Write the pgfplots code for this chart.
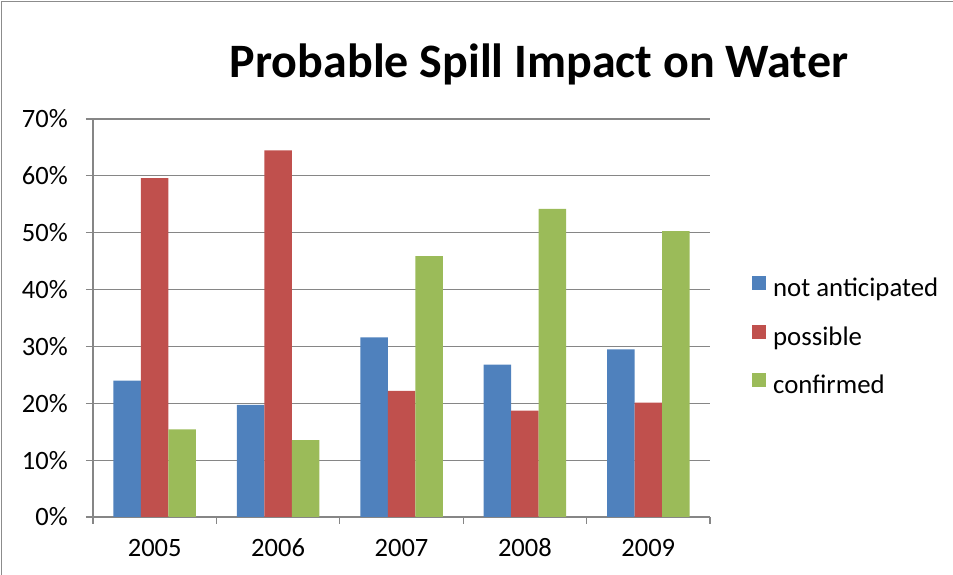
\documentclass[border=0pt]{standalone}
\usepackage{fontspec}
\setmainfont{Carlito}
\usepackage{pgfplots}
\pgfplotsset{compat=1.18}
\definecolor{sblue}{HTML}{4F81BD}
\definecolor{sred}{HTML}{C0504D}
\definecolor{sgreen}{HTML}{9BBB59}
\definecolor{axgray}{HTML}{868686}
\definecolor{framegray}{HTML}{8C8C8C}
\begin{document}
\begin{tikzpicture}
\useasboundingbox (0,0) rectangle (953bp,575bp);
\draw[color=framegray, line width=1.5bp] (1.5bp,0) -- (1.5bp,573.5bp) -- (953bp,573.5bp);
\node[anchor=base, inner sep=0pt, font=\fontsize{48bp}{56bp}\selectfont\bfseries] at (539bp,497bp) {Probable Spill Impact on Water};
\begin{axis}[
  at={(93bp,58bp)}, anchor=south west,
  width=617bp, height=398bp, scale only axis,
  ybar=0pt, bar width=27.5bp,
  xmin=-0.5, xmax=4.5, ymin=0, ymax=70,
  xtick={0,1,2,3,4}, xticklabels={2005,2006,2007,2008,2009},
  minor xtick={-0.5,0.5,1.5,2.5,3.5,4.5},
  ytick={0,10,20,30,40,50,60,70},
  yticklabels={0\%,10\%,20\%,30\%,40\%,50\%,60\%,70\%},
  axis x line*=bottom, axis y line*=left,
  axis line style={color=axgray, line width=1.2bp, -},
  tick align=outside,
  major tick length=7bp, minor tick length=7bp,
  x tick style={draw=none},
  minor x tick style={draw=axgray, line width=1.2bp},
  y tick style={draw=axgray, line width=1.2bp},
  ymajorgrids, grid style={color=axgray, line width=1.2bp},
  tick label style={font=\fontsize{26.5bp}{30bp}\selectfont, text=black},
  xticklabel style={inner sep=0pt, text height=18bp, text depth=0pt, yshift=-14bp},
  yticklabel style={inner sep=0pt, xshift=-18bp},
  legend style={at={(1.068,0.451)}, anchor=west, draw=none, fill=none,
    inner sep=0pt, row sep=23bp, column sep=7bp,
    font=\fontsize{26.8bp}{30bp}\selectfont,
    nodes={inner sep=0pt, text height=18bp, text depth=5bp}},
  legend cell align=left,
  legend image code/.code={\fill[#1] (0bp,0bp) rectangle (14bp,14bp);},
  clip=false,
]
\addplot[fill=sblue, draw=none] coordinates {(0,24.0) (1,19.7) (2,31.6) (3,26.8) (4,29.5)};
\addplot[fill=sred, draw=none] coordinates {(0,59.6) (1,64.5) (2,22.2) (3,18.7) (4,20.1)};
\addplot[fill=sgreen, draw=none] coordinates {(0,15.4) (1,13.5) (2,45.9) (3,54.2) (4,50.3)};
\legend{not anticipated, possible, confirmed}
\end{axis}
\end{tikzpicture}
\end{document}
